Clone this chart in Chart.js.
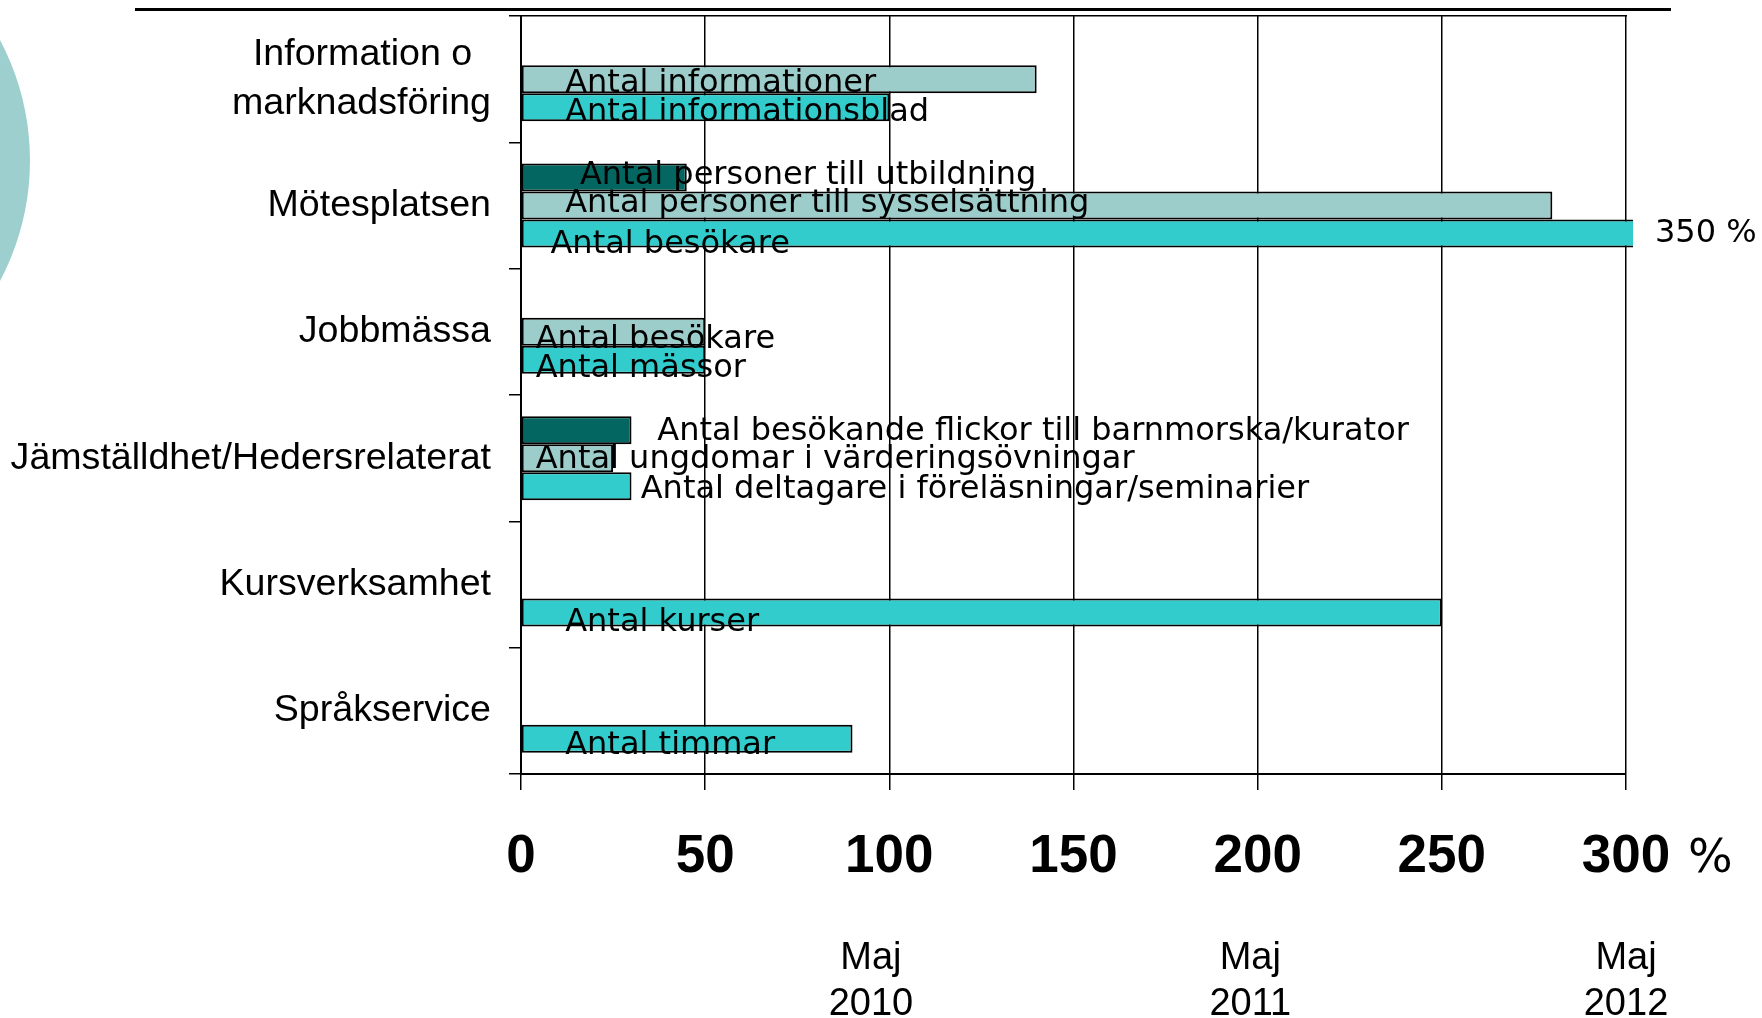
<!DOCTYPE html>
<html>
<head>
<meta charset="utf-8">
<script src="https://cdn.jsdelivr.net/npm/chart.js@4.4.1/dist/chart.umd.min.js"></script>
<style>
    html, body { margin: 0; padding: 0; background: #fff; overflow: hidden; }
    #wrap { position: relative; width: 1762px; height: 1018px; }
    #circle { position: absolute; left: -483px; top: -96px; width: 513px; height: 513px; border-radius: 50%; background: #9ccfcd; }
    #rule { position: absolute; left: 135px; top: 8px; width: 1536px; height: 3px; background: #000; }
    #chart { position: absolute; left: 0; top: 0; }
</style>
</head>
<body>
<div id="wrap">
    <div id="circle"></div>
    <div id="rule"></div>
    <canvas id="chart" width="1762" height="1018"></canvas>
</div>
<script>
// first line padded with an en space so the two lines sit centred on each other
let categories = [["Information o\u2002", "marknadsföring"], "Mötesplatsen", "Jobbmässa", "Jämställdhet/Hedersrelaterat", "Kursverksamhet", "Språkservice"];

// three bar rows per category, top to bottom (percent)
let darkValues = [null, 45, null, 30, null, null];
let lightValues = [140, 280, 50, 25, null, null];
let cyanValues = [100, 350, 50, 30, 250, 90];

let darkNames = [null, "Antal personer till utbildning", null, "Antal besökande flickor till barnmorska/kurator", null, null];
let lightNames = ["Antal informationer", "Antal personer till sysselsättning", "Antal besökare", "Antal ungdomar i värderingsövningar", null, null];
let cyanNames = ["Antal informationsblad", "Antal besökare", "Antal mässor", "Antal deltagare i föreläsningar/seminarier", "Antal kurser", "Antal timmar"];

let xTicks = [0, 50, 100, 150, 200, 250, 300];
let periodLabels = [["Maj", "2010"], ["Maj", "2011"], ["Maj", "2012"]];
let periodAt = [95, 198, 300];

// where each caption starts (axis units) and how far its baseline sits below the bar (px)
let darkCaptionAt = [null, 16, null, 37, null, null];
let darkCaptionDy = [0, -7, 0, -4, 0, 0];
let lightCaptionAt = [12, 12, 4, 4, null, null];
let lightCaptionDy = [-1, -8, 2.6, -4, 0, 0];
let cyanCaptionAt = [12, 8, 4, 32.5, 12, 12];
let cyanCaptionDy = [0, 5, 3.3, -2, 4.4, 1.3];

const captionPlugin = {
    id: "captions",
    afterDatasetsDraw(chart) {
        const ctx = chart.ctx;
        const xs = chart.scales.x;
        ctx.save();
        ctx.fillStyle = "#000";
        ctx.font = "32px 'DejaVu Sans'";
        ctx.textAlign = "left";
        chart.data.datasets.forEach(function (ds, i) {
            const meta = chart.getDatasetMeta(i);
            ds.captions.forEach(function (text, j) {
                if (!text) return;
                const bar = meta.data[j];
                const bottom = bar.y + bar.height / 2;
                ctx.textBaseline = "alphabetic";
                ctx.fillText(text, xs.getPixelForValue(ds.captionAt[j]), bottom + ds.captionDy[j]);
                if (ds.data[j] > xs.max) {
                    ctx.textBaseline = "middle";
                    ctx.fillText(ds.data[j] + " %", xs.right + 29, bar.y);
                }
            });
        });
        ctx.restore();
    },
    afterDraw(chart) {
        const ctx = chart.ctx;
        const xs = chart.scales.x;
        const o = xs.options;
        const mid = xs.top + o.grid.tickLength + o.ticks.padding + o.ticks.font.size * o.ticks.font.lineHeight / 2;
        ctx.save();
        ctx.fillStyle = "#000";
        ctx.font = "47px 'DejaVu Sans'";
        ctx.textAlign = "left";
        ctx.textBaseline = "middle";
        ctx.fillText("%", xs.getPixelForValue(xTicks[xTicks.length - 1]) + 62, mid + 2);
        ctx.restore();
    }
};

function bars(values, names, at, dy, color) {
    return {
        data: values,
        captions: names,
        captionAt: at,
        captionDy: dy,
        backgroundColor: color,
        borderColor: "#000",
        borderWidth: 2,
        borderSkipped: false,
        categoryPercentage: 0.665,
        barPercentage: 1.0,
    };
}

let cyanSet = bars(cyanValues, cyanNames, cyanCaptionAt, cyanCaptionDy, "#33cccc");
cyanSet.clip = { left: false, top: false, right: 7, bottom: false };

new Chart(document.getElementById("chart").getContext("2d"), {
    type: "bar",
    data: {
        labels: categories,
        datasets: [
            bars(darkValues, darkNames, darkCaptionAt, darkCaptionDy, "#036661"),
            bars(lightValues, lightNames, lightCaptionAt, lightCaptionDy, "#9ccdcb"),
            cyanSet,
        ],
    },
    options: {
        indexAxis: "y",
        responsive: false,
        animation: false,
        devicePixelRatio: 1,
        layout: { padding: { left: 0, right: 136, top: 16, bottom: 0 } },
        plugins: { legend: { display: false }, tooltip: { enabled: false } },
        scales: {
            y: {
                type: "category",
                offset: true,
                afterFit: function (s) {
                    s.width = 521;
                    s.paddingTop = 0;
                    s.paddingBottom = 0;
                },
                grid: { offset: true, drawOnChartArea: false, drawTicks: true, tickLength: 12, color: "#000", lineWidth: 1.5 },
                border: { display: true, color: "#000", width: 2 },
                ticks: {
                    autoSkip: false,
                    color: "#000",
                    padding: 18,
                    font: { family: "'Liberation Sans', Arial, sans-serif", size: 37.6, lineHeight: 1.28 },
                },
            },
            x: {
                type: "linear",
                position: "bottom",
                weight: 0,
                min: xTicks[0],
                max: xTicks[xTicks.length - 1],
                afterFit: function (s) { s.height = 110; },
                grid: { color: "#000", lineWidth: 1.5, tickLength: 16, drawTicks: true },
                border: { display: true, color: "#000", width: 2 },
                ticks: {
                    stepSize: xTicks[1] - xTicks[0],
                    color: "#000",
                    padding: 36,
                    maxRotation: 0,
                    font: { family: "'Liberation Sans', Arial, sans-serif", size: 53, weight: "bold", lineHeight: 1.2 },
                },
            },
            x2: {
                type: "linear",
                axis: "x",
                position: "bottom",
                weight: 1,
                min: xTicks[0],
                max: xTicks[xTicks.length - 1],
                afterFit: function (s) { s.height = 134; },
                afterBuildTicks: function (s) { s.ticks = periodAt.map(function (v) { return { value: v }; }); },
                grid: { display: false, drawTicks: false },
                border: { display: false },
                ticks: {
                    autoSkip: false,
                    maxRotation: 0,
                    color: "#000",
                    padding: 52,
                    callback: function (value, index) { return periodLabels[index]; },
                    font: { family: "'Liberation Sans', Arial, sans-serif", size: 38, lineHeight: 1.21 },
                },
            },
            xTop: {
                type: "linear",
                axis: "x",
                position: "top",
                min: xTicks[0],
                max: xTicks[xTicks.length - 1],
                afterFit: function (s) { s.height = 0; },
                grid: { display: false, drawTicks: false },
                border: { display: true, color: "#000", width: 1.5 },
                ticks: { display: false },
            },
        },
    },
    plugins: [captionPlugin],
});
</script>
</body>
</html>
